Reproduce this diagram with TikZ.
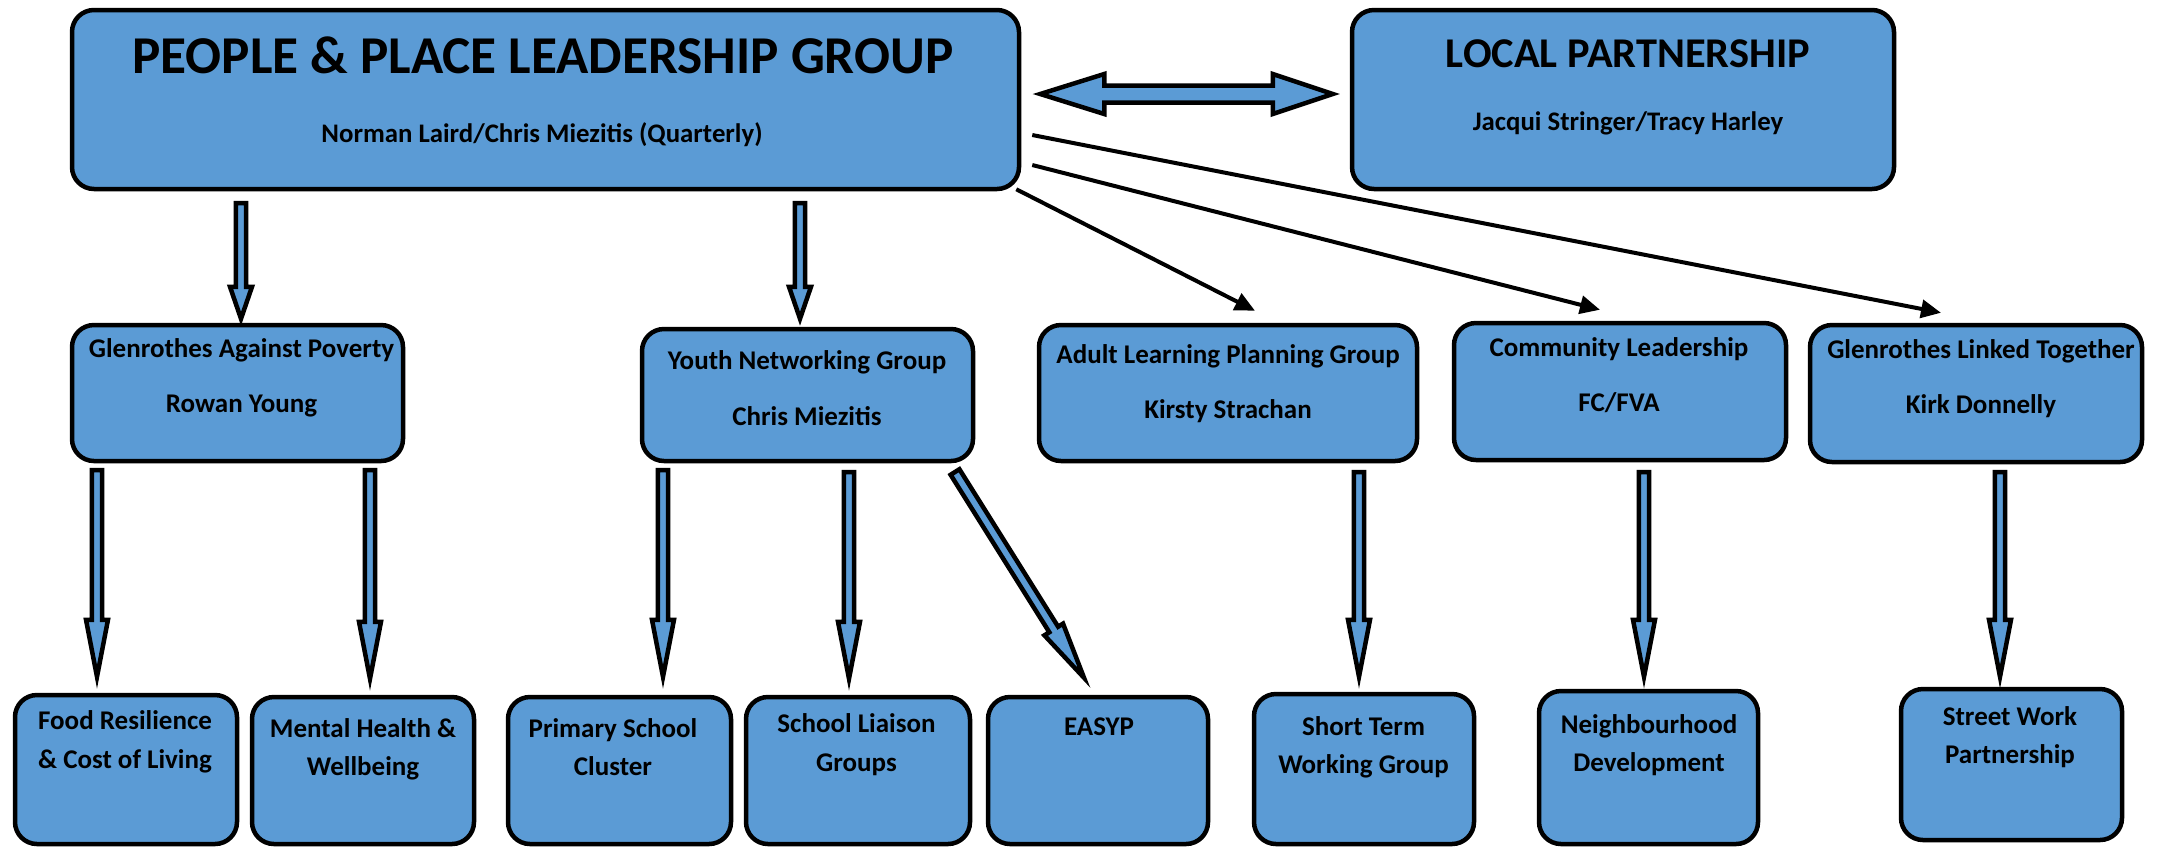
\documentclass[tikz,border=0pt]{standalone}
\usepackage{fontspec}
\setmainfont{Carlito}
\usetikzlibrary{arrows.meta,calc,fit}
\definecolor{boxblue}{HTML}{5B9BD5}
\tikzset{
  box/.style={draw=black, line width=2.25pt, fill=boxblue, rounded corners=11pt, inner sep=0pt},
  txt/.style={font=\bfseries\fontsize{13.5}{16}\selectfont, anchor=base, inner sep=0pt},
  subtxt/.style={font=\bfseries\fontsize{13.4}{16}\selectfont, anchor=base, inner sep=0pt},
  bigtxt/.style={font=\bfseries\fontsize{26.6}{31}\selectfont, anchor=base, inner sep=0pt},
  midtxt/.style={font=\bfseries\fontsize{21.2}{25}\selectfont, anchor=base, inner sep=0pt},
  fat/.style={draw=black, fill=boxblue, line width=2.25pt, line join=miter, miter limit=10},
  thin/.style={draw=black, line width=2pt, -{Triangle[length=10pt,width=9pt]}},
}
\newcommand{\fatarrow}[3]{%
  \coordinate (fa-h) at ($(#2)!#3!(#1)$);
  \path[fat] ($(#1)!2.6pt!90:(#2)$) -- ($(fa-h)!2.6pt!90:(#2)$) -- ($(fa-h)!5.5pt!90:(#2)$)
    -- (#2) -- ($(fa-h)!5.5pt!-90:(#2)$) -- ($(fa-h)!2.6pt!-90:(#2)$) -- ($(#1)!2.6pt!-90:(#2)$) -- cycle;
}
\begin{document}
\begin{tikzpicture}[x=0.5pt,y=-0.5pt]
\useasboundingbox (0,0) rectangle (2157,848);
% boxes
\node[box, fit={(72,10) (1019,189)}] (main) {};
\node[box, fit={(1352,10) (1894,189)}] (local) {};
\node[box, fit={(72,325) (403,461)}] (gap) {};
\node[box, fit={(642,329) (973,461)}] (youth) {};
\node[box, fit={(1039,325) (1417,461)}] (adult) {};
\node[box, fit={(1454,323) (1786,460)}] (comm) {};
\node[box, fit={(1810,325) (2142,462)}] (glt) {};
\node[box, fit={(15,695) (237,844)}] (food) {};
\node[box, fit={(252,697) (474,844)}] (mental) {};
\node[box, fit={(508,697) (731,844)}] (primary) {};
\node[box, fit={(746,697) (970,844)}] (school) {};
\node[box, fit={(988,697) (1208,844)}] (easyp) {};
\node[box, fit={(1254,694) (1474,844)}] (short) {};
\node[box, fit={(1539,691) (1758,844)}] (neigh) {};
\node[box, fit={(1901,689) (2122,840)}] (street) {};
% texts
\node[bigtxt] at (543,73) {PEOPLE \& PLACE LEADERSHIP GROUP};
\node[subtxt] at (542,142) {Norman Laird/Chris Miezitis (Quarterly)};
\node[midtxt] at (1628,67) {LOCAL PARTNERSHIP};
\node[subtxt] at (1628,130) {Jacqui Stringer/Tracy Harley};
\node[txt] at (241.5,357) {Glenrothes Against Poverty};
\node[txt] at (241.5,412) {Rowan Young};
\node[txt] at (807,369) {Youth Networking Group};
\node[txt] at (807,425) {Chris Miezitis};
\node[txt] at (1228,363) {Adult Learning Planning Group};
\node[txt] at (1228,418) {Kirsty Strachan};
\node[txt] at (1619,356) {Community Leadership};
\node[txt] at (1619,411) {FC/FVA};
\node[txt] at (1981,358) {Glenrothes Linked Together};
\node[txt] at (1981,413) {Kirk Donnelly};
\node[txt] at (125,729) {Food Resilience};
\node[txt] at (125,768) {\& Cost of Living};
\node[txt] at (363,737) {Mental Health \&};
\node[txt] at (363,775) {Wellbeing};
\node[txt] at (613,737) {Primary School};
\node[txt] at (613,775) {Cluster};
\node[txt] at (856.5,732) {School Liaison};
\node[txt] at (856.5,771) {Groups};
\node[txt] at (1099,735) {EASYP};
\node[txt] at (1363.5,735) {Short Term};
\node[txt] at (1363.5,773) {Working Group};
\node[txt] at (1649,733) {Neighbourhood};
\node[txt] at (1649,771) {Development};
\node[txt] at (2010,725) {Street Work};
\node[txt] at (2010,763) {Partnership};
% double arrow between main and local
\coordinate (dl) at ($(main.east)+(19,-5.5)$);
\coordinate (dr) at ($(local.west)+(-17,-5.5)$);
\path[fat] (dl) -- ($(dl)+(64,-20)$) -- ($(dl)+(64,-8.5)$) -- ($(dr)+(-60,-8.5)$) -- ($(dr)+(-60,-20)$)
  -- (dr) -- ($(dr)+(-60,20)$) -- ($(dr)+(-60,8.5)$) -- ($(dl)+(64,8.5)$) -- ($(dl)+(64,20)$) -- cycle;
% thin arrows
\draw[thin] ($(main.east)+(11,35.5)$) -- ($(glt.north)+(-35,-10)$);
\draw[thin] ($(main.east)+(11,65.5)$) -- ($(comm.north)+(-20,-11)$);
\draw[thin] ($(main.south east)+(-5,-2)$) -- ($(adult.north)+(27,-12)$);
% fat arrows level 1
\coordinate (s1) at (241,203);
\coordinate (e1) at ($(s1 |- gap.north)+(0,-4)$);
\fatarrow{s1}{e1}{16pt}
\coordinate (s2) at (800,203);
\coordinate (e2) at ($(s2 |- youth.north)+(0,-8)$);
\fatarrow{s2}{e2}{16pt}
% fat arrows level 2
\coordinate (s3) at (97,470);
\coordinate (e3) at ($(s3 |- food.north)+(0,-16)$);
\fatarrow{s3}{e3}{28.5pt}
\coordinate (s4) at (370,470);
\coordinate (e4) at ($(s4 |- mental.north)+(0,-16)$);
\fatarrow{s4}{e4}{28.5pt}
\coordinate (s5) at (663,470);
\coordinate (e5) at ($(s5 |- primary.north)+(0,-18)$);
\fatarrow{s5}{e5}{28.5pt}
\coordinate (s6) at (849,472);
\coordinate (e6) at ($(s6 |- school.north)+(0,-16)$);
\fatarrow{s6}{e6}{28.5pt}
\coordinate (s7) at (955,472);
\coordinate (e7) at ($(easyp.north)+(-14,-17)$);
\fatarrow{s7}{e7}{28.5pt}
\coordinate (s8) at (1359,472);
\coordinate (e8) at ($(s8 |- short.north)+(0,-15)$);
\fatarrow{s8}{e8}{28.5pt}
\coordinate (s9) at (1644,472);
\coordinate (e9) at ($(s9 |- neigh.north)+(0,-12)$);
\fatarrow{s9}{e9}{28.5pt}
\coordinate (s10) at (2000,472);
\coordinate (e10) at ($(s10 |- street.north)+(0,-10)$);
\fatarrow{s10}{e10}{28.5pt}
\end{tikzpicture}
\end{document}
